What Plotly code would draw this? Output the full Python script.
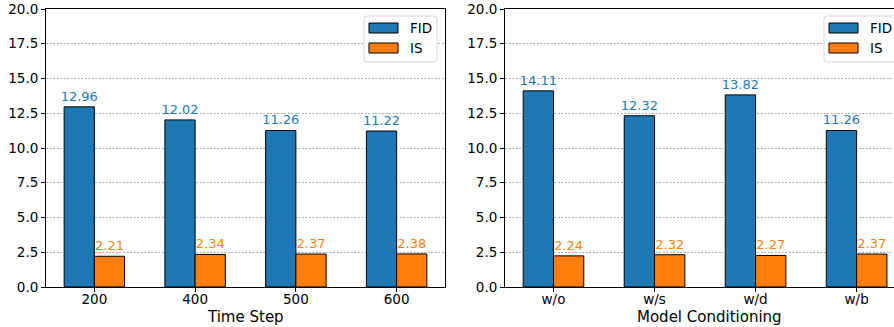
import plotly.graph_objects as go

# ---- data ----
time_steps = ["200", "400", "500", "600"]
fid_time = [12.96, 12.02, 11.26, 11.22]
is_time = [2.21, 2.34, 2.37, 2.38]

conditioning = ["w/o", "w/s", "w/d", "w/b"]
fid_cond = [14.11, 12.32, 13.82, 11.26]
is_cond = [2.24, 2.32, 2.27, 2.37]

series_names = ["FID", "IS"]
x_titles = ["Time Step", "Model Conditioning"]
y_ticks = [0, 2.5, 5, 7.5, 10, 12.5, 15, 17.5, 20]

BLUE = "#1f77b4"
ORANGE = "#ff7f0e"
FONT = "DejaVu Sans"

W, H = 894, 327
L, T, B = 46, 9, 40
PW = W - L
PH = H - T - B

def px_x(p):
    return (p - L) / PW

def px_y(p):
    return (H - B - p) / PH

fig = go.Figure()

def add_group(cats, fid, iss, xa, ya):
    for name, vals, col in [(series_names[0], fid, BLUE), (series_names[1], iss, ORANGE)]:
        fig.add_trace(go.Bar(
            x=cats, y=vals, name=name, xaxis=xa, yaxis=ya,
            marker=dict(color=col, line=dict(color="black", width=1)),
            text=[f"{v:.2f}" for v in vals], textposition="outside",
            textfont=dict(color=col, size=13, family=FONT),
            constraintext="none", hoverinfo="skip",
            cliponaxis=False, showlegend=False, width=0.3,
        ))

add_group(time_steps, fid_time, is_time, "x", "y")
add_group(conditioning, fid_cond, is_cond, "x2", "y2")

axis_common = dict(
    showline=True, linecolor="black", linewidth=1, mirror=True,
    ticks="outside", ticklen=4, tickcolor="black", automargin=False,
    tickfont=dict(size=13.5, family=FONT, color="black"),
)
yax = dict(axis_common, range=[0, 20], tickvals=y_ticks, tickformat=".1f",
           showgrid=True, gridcolor="#b0b0b0", gridwidth=0.8, griddash="2px,1.5px",
           zeroline=False)
xax = dict(axis_common, showgrid=False, ticklabelstandoff=-4)

left_dom = [0, px_x(445)]
right_dom = [px_x(505), 1]

fig.update_layout(
    width=W, height=H,
    margin=dict(l=L, r=0, t=T, b=B, autoexpand=False),
    paper_bgcolor="white", plot_bgcolor="white",
    barmode="group", bargap=0.4, bargroupgap=0,
    font=dict(family=FONT, color="black"),
    xaxis=dict(xax, domain=left_dom, range=[-0.48, 3.48]),
    xaxis2=dict(xax, domain=right_dom, range=[-0.48, 3.37], anchor="y2"),
    yaxis=dict(yax, anchor="x"),
    yaxis2=dict(yax, anchor="x2"),
)

# axis titles
for cx, title in zip([245.5, 709], x_titles):
    fig.add_annotation(xref="paper", yref="paper", x=px_x(cx), y=px_y(317),
                       text=title, showarrow=False, xanchor="center", yanchor="middle",
                       font=dict(size=15, family=FONT, color="black"))

# ---- legends drawn as shapes + text ----
def rounded_rect(x0, y0, x1, y1, r=3):
    def P(x, y):
        return f"{px_x(x):.5f},{px_y(y):.5f}"
    return (f"M{P(x0+r, y0)} L{P(x1-r, y0)} Q{P(x1, y0)} {P(x1, y0+r)} "
            f"L{P(x1, y1-r)} Q{P(x1, y1)} {P(x1-r, y1)} L{P(x0+r, y1)} "
            f"Q{P(x0, y1)} {P(x0, y1-r)} L{P(x0, y0+r)} Q{P(x0, y0)} {P(x0+r, y0)} Z")

def add_legend(bx):
    fig.add_shape(type="path", xref="paper", yref="paper",
                  path=rounded_rect(bx, 16, bx + 73, 62),
                  fillcolor="rgba(255,255,255,0.8)", line=dict(color="#d6d6d6", width=1))
    for i, (name, col) in enumerate(zip(series_names, [BLUE, ORANGE])):
        y0 = 23 + i * 20
        fig.add_shape(type="rect", xref="paper", yref="paper",
                      x0=px_x(bx + 5), x1=px_x(bx + 34), y0=px_y(y0), y1=px_y(y0 + 10),
                      fillcolor=col, line=dict(color="black", width=1))
        fig.add_annotation(xref="paper", yref="paper", x=px_x(bx + 44), y=px_y(y0 + 5),
                           text=name, showarrow=False, xanchor="left", yanchor="middle",
                           font=dict(size=13.5, family=FONT, color="black"))

add_legend(364)
add_legend(824)

fig.write_html(
    "out.html",
    config={"displayModeBar": False},
    post_script="document.body.style.margin='0';document.body.style.overflow='hidden';",
)
